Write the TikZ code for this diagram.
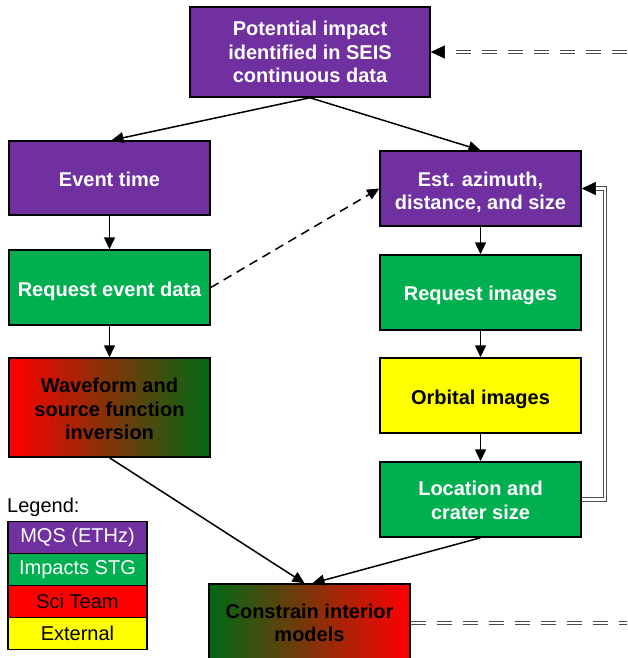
\documentclass[tikz,border=0pt]{standalone}
\usepackage{fontspec}
\setmainfont{Liberation Sans}
\usetikzlibrary{arrows.meta,calc}
\definecolor{mqs}{RGB}{112,48,160}
\definecolor{stg}{RGB}{0,176,80}
\definecolor{sci}{RGB}{255,0,0}
\definecolor{ext}{RGB}{255,255,0}
\definecolor{dkg}{RGB}{0,105,20}
\begin{document}
\begin{tikzpicture}[x=1pt,y=-1pt,
  box/.style={draw=black, line width=1.5pt, minimum width=201pt, minimum height=75pt,
    inner sep=0pt},
  purplebox/.style={box, fill=mqs},
  greenbox/.style={box, fill=stg},
  yellowbox/.style={box, fill=ext},
  txt/.style={align=center, inner sep=0pt, font=\fontsize{20}{23.5}\selectfont\bfseries},
  wtxt/.style={txt, text=white},
  btxt/.style={txt, text=black},
  legbox/.style={draw=black, line width=1.2pt, minimum width=139pt, minimum height=32pt,
    inner sep=0pt, font=\fontsize{20}{22}\selectfont},
  arr/.style={line width=1.5pt, -{Triangle[length=12pt,width=11pt]}},
  dline/.style={draw=black!70, double=white, double distance=2.4pt, line width=1pt},
  dashdline/.style={dline, dash pattern=on 15pt off 11pt},
  tip/.style={line width=0.5pt, -{Triangle[length=14pt,width=13pt]}}
]
\useasboundingbox (0,0) rectangle (627,658);

% boxes
\node[purplebox, minimum width=240pt, minimum height=90pt] (top) at (310,52) {};
\node[purplebox, minimum height=74pt] (evt) at (109.5,178) {};
\node[greenbox] (req) at (109.5,287.5) {};
\node[box, minimum height=99pt, left color=sci, right color=dkg] (wave) at (109.5,407.5) {};
\node[purplebox] (est) at (480.5,188.5) {};
\node[greenbox] (reqi) at (480.5,292.5) {};
\node[yellowbox] (orb) at (480.5,395.5) {};
\node[greenbox] (loc) at (480.5,499.5) {};
\node[box, minimum height=78pt, left color=dkg, right color=sci] (con) at (309.5,623) {};

% box texts
\node[wtxt] (ttop) at (top.center) {Potential impact\\identified in SEIS\\continuous data};
\node[wtxt] (tevt) at ([yshift=-1.7pt]evt.center) {Event time};
\node[wtxt] (treq) at ([yshift=-3.5pt]req.center) {Request event data};
\node[btxt] (twave) at ([yshift=-1.5pt]wave.center) {Waveform and\\source function\\inversion};
\node[wtxt] (test) at ([yshift=-3.8pt]est.center) {Est. azimuth,\\distance, and size};
\node[wtxt] (treqi) at ([yshift=-3pt]reqi.center) {Request images};
\node[btxt] (torb) at ([yshift=-3.7pt]orb.center) {Orbital images};
\node[wtxt] (tloc) at ([yshift=-1pt]loc.center) {Location and\\crater size};
\node[btxt] (tcon) at (con.center) {Constrain interior\\models};

% legend
\node[anchor=west, font=\fontsize{20}{22}\selectfont, inner sep=0pt] (leg) at (7,507) {Legend:};
\node[legbox, fill=mqs, text=white] (l1) at (77.5,537.5) {MQS (ETHz)};
\node[legbox, fill=stg, text=white] (l2) at (77.5,569.5) {Impacts STG};
\node[legbox, fill=sci, text=black] (l3) at (77.5,601.5) {Sci Team};
\node[legbox, fill=ext, text=black] (l4) at (77.5,633.5) {External};

% arrows
\draw[arr] (top.south) -- ([xshift=2pt]evt.north);
\draw[arr] (top.south) -- (est.north);
\draw[arr] (evt.south) -- (req.north);
\draw[arr] (req.south) -- (wave.north);
\draw[arr] (wave.south) -- ([xshift=-5pt]con.north);
\draw[arr] (loc.south) -- ([xshift=3pt]con.north);
\draw[arr, dash pattern=on 9pt off 6pt] (req.east) -- (est.west);
\draw[arr] (est.south) -- (reqi.north);
\draw[arr] (reqi.south) -- (orb.north);
\draw[arr] (orb.south) -- (loc.north);

% feedback loop (double line)
\coordinate (lb) at (605,499.5);
\coordinate (lt) at (605,188.5);
\coordinate (esttip) at (594,188.5);
\draw[dline] (loc.east) -- (lb) -- (lt) -- (esttip);
\draw[tip] (esttip) -- (est.east);

% dashed double lines to the right edge
\coordinate (re) at (627,52);
\coordinate (toptip) at (444,52);
\coordinate (rb) at (627,623);
\draw[dashdline] (re) -- (toptip);
\draw[tip] (toptip) -- (top.east);
\draw[dashdline] (con.east) -- (rb);
\end{tikzpicture}
\end{document}
